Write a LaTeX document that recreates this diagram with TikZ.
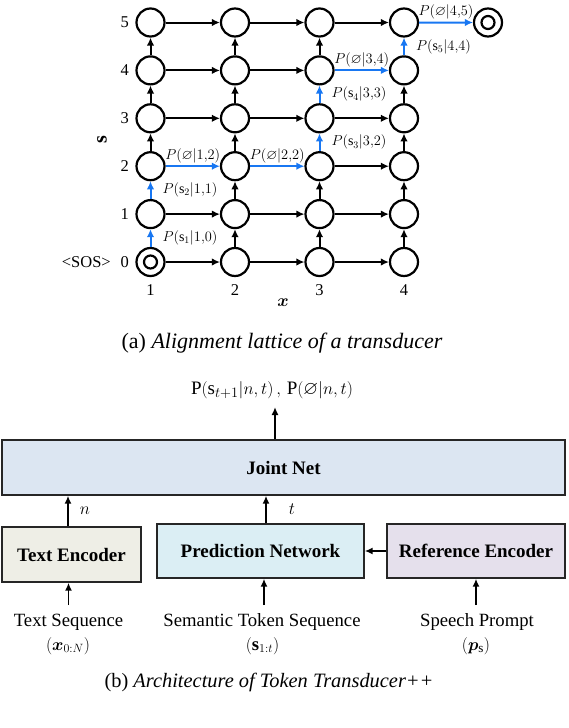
\documentclass[tikz,border=0pt]{standalone}
\usepackage{amsmath,amssymb}
\usepackage{bm}
\usepackage{fontspec}
\setmainfont{Liberation Serif}
\usetikzlibrary{arrows.meta}
\definecolor{tblue}{RGB}{24,119,242}
\definecolor{cjoint}{RGB}{220,230,242}
\definecolor{ctenc}{RGB}{238,238,230}
\definecolor{cpred}{RGB}{219,238,244}
\definecolor{cref}{RGB}{229,224,236}
\tikzset{
 st/.style={circle, draw, line width=2.2pt, minimum size=28pt, inner sep=0pt},
 arr/.style={line width=2pt, -{Latex[length=8pt,width=7.5pt]}},
 barr/.style={arr, draw=tblue, color=tblue},
 lab/.style={font=\fontsize{14}{16}\selectfont, inner sep=1pt, text=black},
 num/.style={font=\fontsize{16.5}{20}\selectfont, inner sep=0pt},
 box/.style={draw=black!85, line width=1.4pt, inner sep=0pt},
 btitle/.style={font=\fontsize{19}{22}\selectfont\bfseries},
 txt/.style={font=\fontsize{18.7}{22}\selectfont, inner sep=0pt},
 arrb/.style={line width=1.6pt, -{Latex[length=8pt,width=7pt]}},
}
\begin{document}
\begin{tikzpicture}[x=1pt,y=-1pt]
\useasboundingbox (0,0) rectangle (568,728);
% lattice nodes
\foreach \i/\x in {1/150.5,2/235,3/319.5,4/404}{
  \foreach \j in {0,...,5}{
    \node[st] (n\i\j) at (\x,{262-47.9*\j}) {};
  }
}
\node[st] (f) at (488,22.5) {};
\draw[line width=2.2pt] (n10) circle (6.5pt);
\draw[line width=2.2pt] (f) circle (6.5pt);
% row labels
\foreach \j in {0,...,5}{
  \node[num, anchor=east] (r\j) at (129,{262-47.9*\j}) {\j};
}
\node[num, anchor=east] (sos) at (111,262) {<SOS>};
\foreach \i/\x in {1/150.5,2/235,3/319.5,4/404}{
  \node[num] (c\i) at (\x,290) {\i};
}
\node[font=\fontsize{19}{22}\selectfont, inner sep=0pt] (xl) at (283,303) {$\bm{x}$};
\node[font=\fontsize{20}{22}\selectfont, inner sep=0pt, rotate=90] (sl) at (102,140) {$\bm{\mathrm{s}}$};
% black horizontal edges
\foreach \i/\j [evaluate=\i as \k using int(\i+1)] in {1/0,2/0,3/0,1/1,2/1,3/1,3/2,1/3,2/3,3/3,1/4,2/4,1/5,2/5,3/5}{
  \draw[arr] (n\i\j) -- (n\k\j);
}
% black vertical edges
\foreach \i/\j [evaluate=\j as \k using int(\j+1)] in {1/2,1/3,1/4,2/0,2/1,2/2,2/3,2/4,3/0,3/1,3/4,4/0,4/1,4/2,4/3}{
  \draw[arr] (n\i\j) -- (n\i\k);
}
% blue path
\draw[barr] (n10) -- node[lab, right=10pt] {$P(\mathrm{s}_1|1{,}0)$} (n11);
\draw[barr] (n11) -- node[lab, right=10pt] {$P(\mathrm{s}_2|1{,}1)$} (n12);
\draw[barr] (n12) -- node[lab, above=1pt] {$P(\varnothing|1{,}2)$} (n22);
\draw[barr] (n22) -- node[lab, above=1pt] {$P(\varnothing|2{,}2)$} (n32);
\draw[barr] (n32) -- node[lab, right=10pt] {$P(\mathrm{s}_3|3{,}2)$} (n33);
\draw[barr] (n33) -- node[lab, right=10pt] {$P(\mathrm{s}_4|3{,}3)$} (n34);
\draw[barr] (n34) -- node[lab, above=1pt] {$P(\varnothing|3{,}4)$} (n44);
\draw[barr] (n44) -- node[lab, right=10pt] {$P(\mathrm{s}_5|4{,}4)$} (n45);
\draw[barr] (n45) -- node[lab, above=1pt] {$P(\varnothing|4{,}5)$} (f);
% caption a
\node[font=\fontsize{22}{26}\selectfont, inner sep=0pt] (capa) at (282,343) {(a) \textit{Alignment lattice of a transducer}};
% architecture
\node[box, fill=cjoint, minimum width=563pt, minimum height=55pt] (joint) at (283.5,467.5) {};
\node[btitle] (jointt) at (joint.center) {Joint Net};
\node[box, fill=ctenc, minimum width=139pt, minimum height=55pt] (tenc) at (71.5,554.5) {};
\node[btitle] (tenct) at (tenc.center) {Text Encoder};
\node[box, fill=cpred, minimum width=207pt, minimum height=54pt] (pred) at (260.5,551) {};
\node[btitle] (predt) at (pred.center) {Prediction Network};
\node[box, fill=cref, minimum width=178pt, minimum height=54pt] (ref) at (476,551) {};
\node[btitle] (reft) at (ref.center) {Reference Encoder};
% output
\node[font=\fontsize{19}{22}\selectfont, inner sep=0pt] (out) at (272,390) {$\mathrm{P}(\mathrm{s}_{t+1}|n,t)\,,\,\mathrm{P}(\varnothing|n,t)$};
\coordinate (otip) at (275,407);
\draw[arrb] ([xshift=-8.5pt]joint.north) -- (otip);
\draw[arrb] ([xshift=-3.5pt]tenc.north) -- node[txt, right=11pt] {$n$} ([xshift=-3.5pt]tenc.north |- joint.south);
\draw[arrb] ([xshift=5.5pt]pred.north) -- node[txt, right=22pt] {$t$} ([xshift=5.5pt]pred.north |- joint.south);
\draw[arrb] (ref.west) -- (pred.east);
% inputs
\node[txt] (tseq) at (68.5,622) {Text Sequence};
\node[txt] (tx) at (68,646) {$(\bm{x}_{0:N})$};
\node[txt] (sseq) at (262,622) {Semantic Token Sequence};
\node[txt] (sx) at (262.5,646) {$(\mathbf{s}_{1:t})$};
\node[txt] (pseq) at (477,622) {Speech Prompt};
\node[txt] (px) at (476,646) {$(\bm{p}_{\mathrm{s}})$};
\coordinate (i1) at (68.5,605);
\coordinate (i2) at (264,605);
\coordinate (i3) at (476,605);
\draw[arrb] (i1) -- (i1 |- tenc.south);
\draw[arrb] (i2) -- (i2 |- pred.south);
\draw[arrb] (i3) -- (i3 |- ref.south);
\node[font=\fontsize{20.4}{24}\selectfont, inner sep=0pt] (capb) at (269,682) {(b) \textit{Architecture of Token Transducer++}};
\end{tikzpicture}
\end{document}
